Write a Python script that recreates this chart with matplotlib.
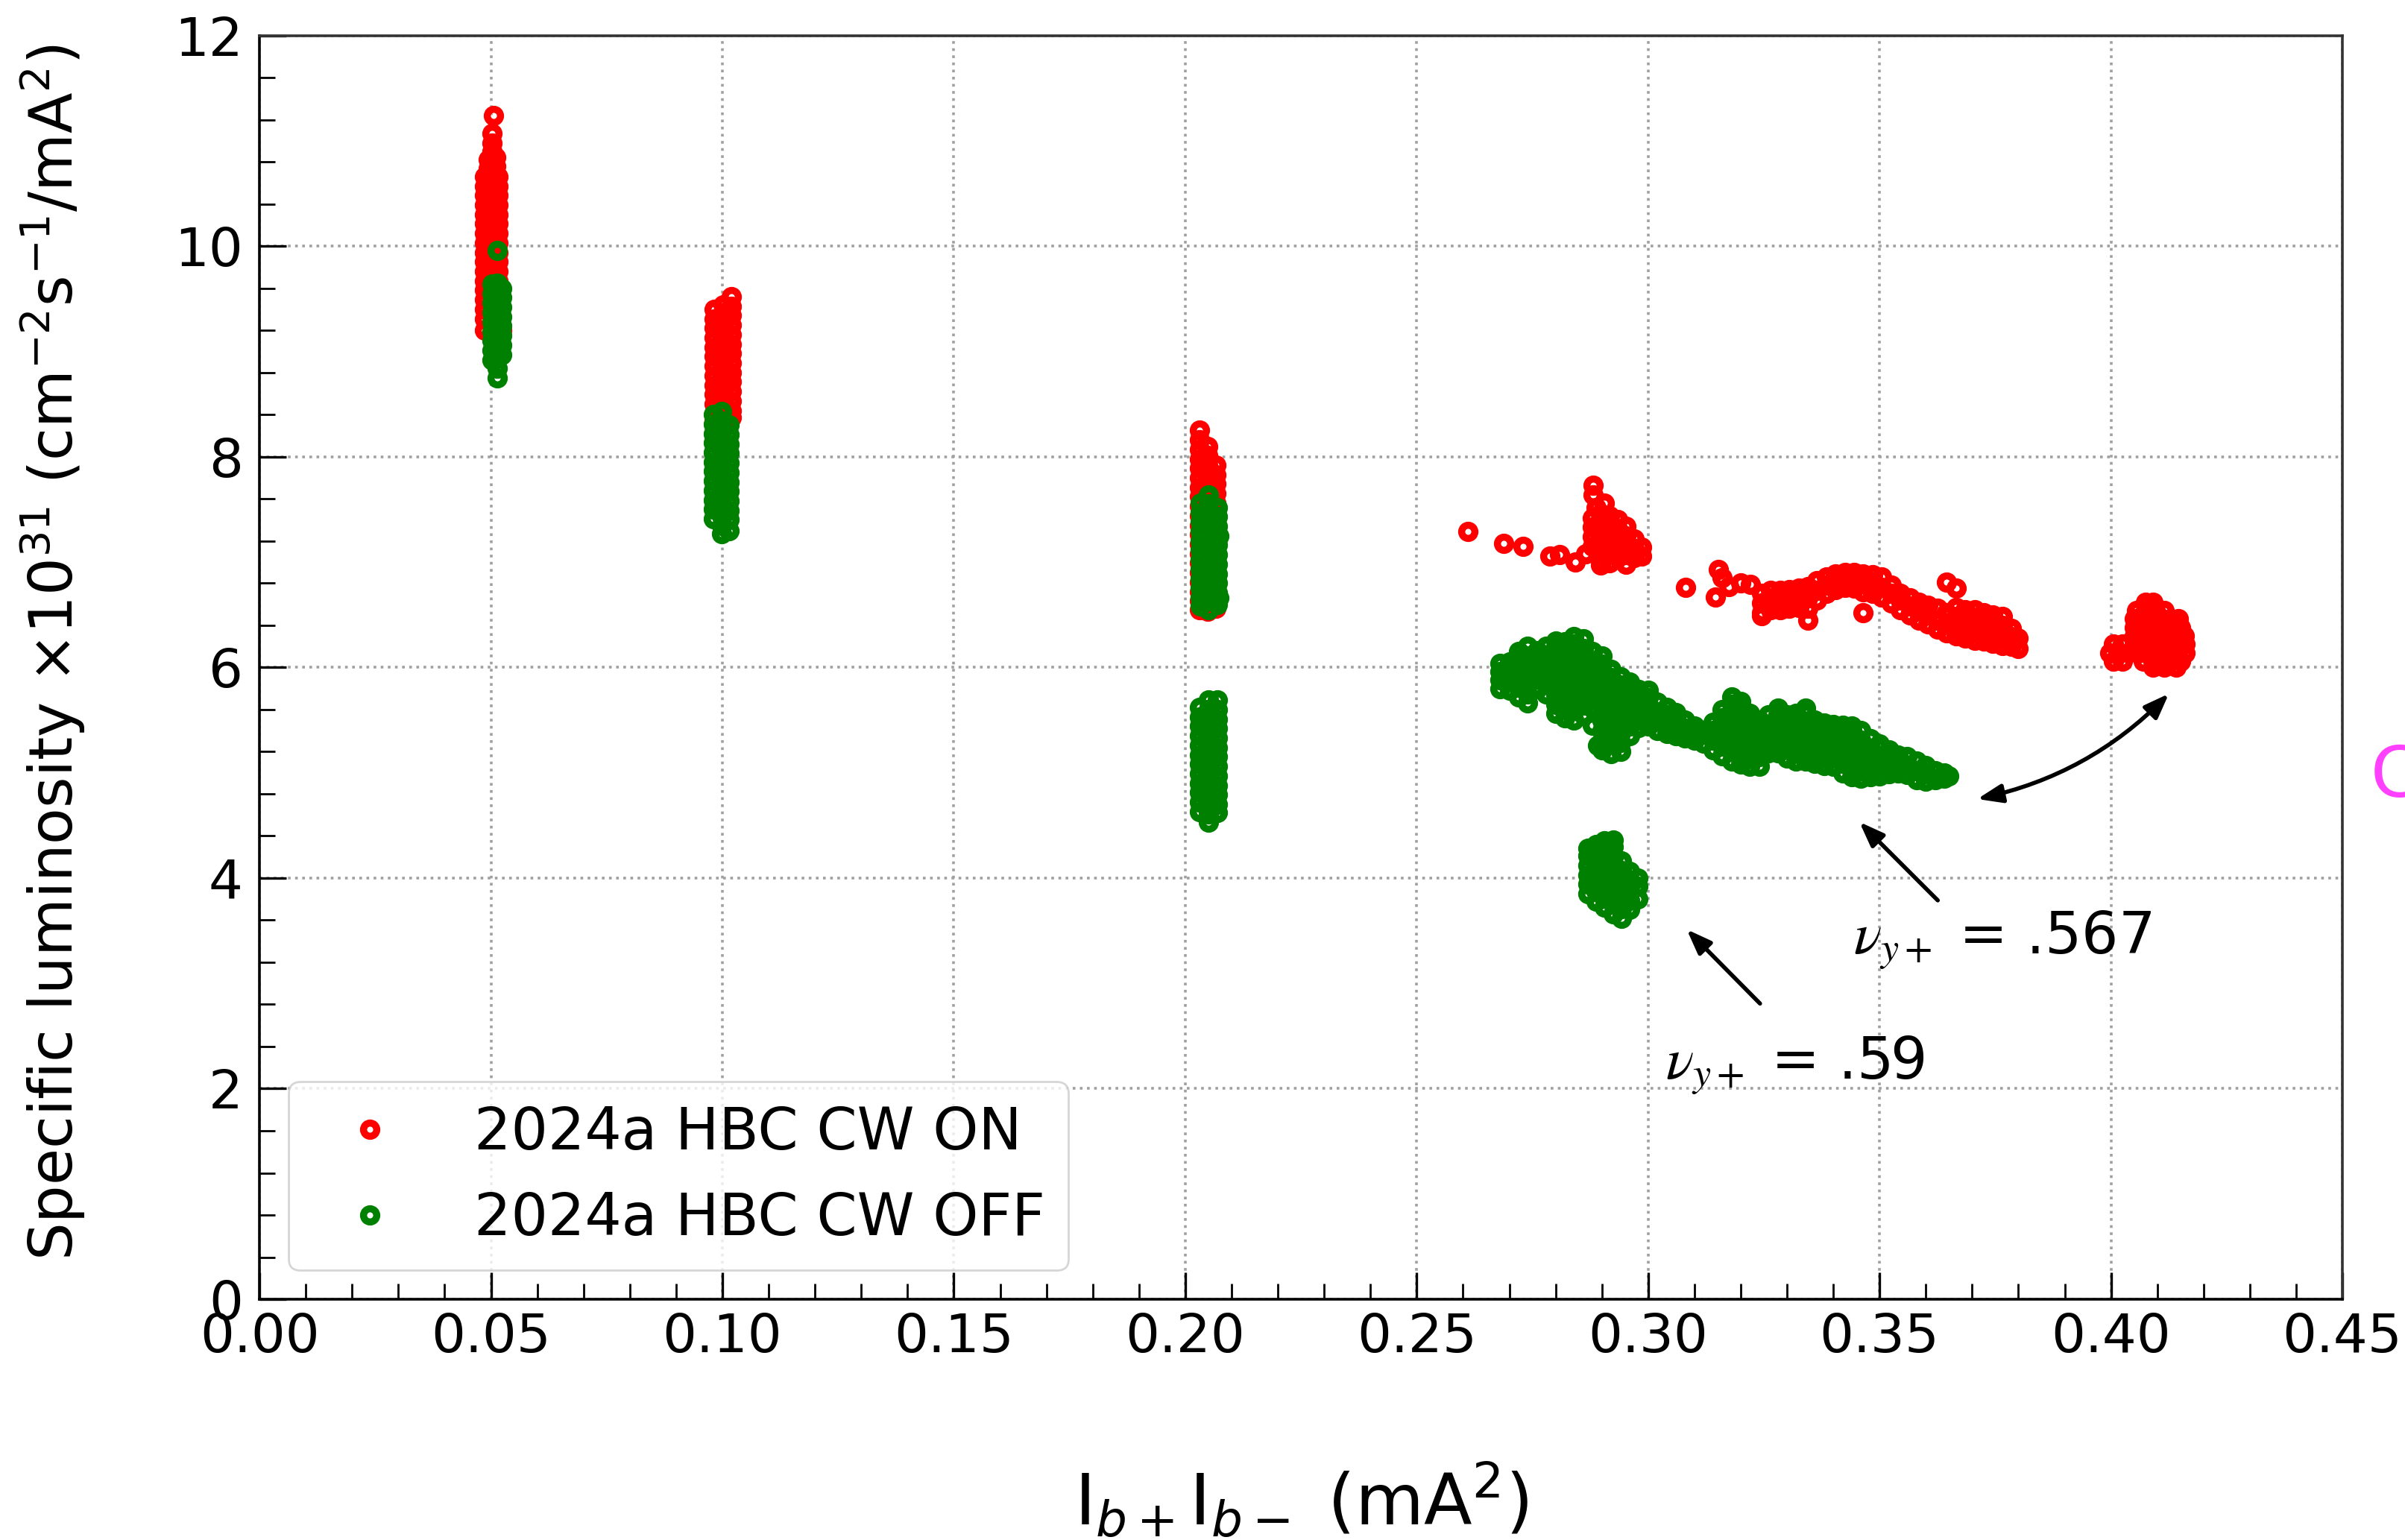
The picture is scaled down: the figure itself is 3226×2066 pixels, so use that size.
import matplotlib
matplotlib.use('Agg')
import matplotlib.pyplot as plt
from matplotlib.ticker import MultipleLocator, FormatStrFormatter

# columnas (x, [y, ...])
on_005 = [
    (0.0506, [11.24]),
    (0.0502, [11.07, 10.98, 10.90]),
    (0.0494, [10.82, 10.74]),
    (0.0510, [10.84, 10.76]),
    (0.0487, [10.66, 10.57, 10.48, 10.39, 10.30, 10.21, 10.12, 10.03, 9.94, 9.85, 9.76, 9.67, 9.58, 9.49, 9.40, 9.31, 9.20]),
    (0.0501, [10.68, 10.59, 10.50, 10.41, 10.32, 10.23, 10.14, 10.05, 9.96, 9.87, 9.78, 9.69]),
    (0.0515, [10.66, 10.57, 10.48, 10.39, 10.30, 10.21, 10.12, 10.03, 9.94, 9.85, 9.76, 9.67, 9.58, 9.49, 9.40, 9.31]),
    (0.0523, [9.20]),
]
on_010 = [
    (0.0983, [9.40, 9.31, 9.22, 9.13, 9.04, 8.95, 8.86, 8.77, 8.68, 8.59, 8.50, 8.41, 8.34]),
    (0.1001, [9.44, 9.35, 9.26, 9.17, 9.08, 8.99, 8.90, 8.81, 8.72, 8.63, 8.54, 8.45, 8.36]),
    (0.1019, [9.52, 9.43, 9.34, 9.25, 9.16, 9.07, 8.98, 8.89, 8.80, 8.71, 8.62, 8.53, 8.44, 8.37]),
]
on_020 = [
    (0.2031, [8.25, 8.16, 8.07, 7.98, 7.89, 7.80, 7.71, 7.62, 7.53, 7.44, 7.35, 7.26, 7.17, 7.08, 6.99, 6.90, 6.81, 6.72, 6.63, 6.55]),
    (0.2049, [8.10, 8.01, 7.92, 7.83, 7.74, 7.65, 7.56, 7.47, 7.38, 7.29, 7.20, 7.11, 7.02, 6.93, 6.84, 6.75, 6.66, 6.53]),
    (0.2066, [7.92, 7.83, 7.74, 7.65, 7.56, 7.47, 7.38, 7.29, 7.20, 7.11, 7.02, 6.93, 6.84, 6.75, 6.66, 6.56]),
]
on_029 = [
    (0.2611, [7.29]), (0.2688, [7.18]), (0.2730, [7.15]), (0.2788, [7.06]),
    (0.2809, [7.07]), (0.2842, [7.00]), (0.2865, [7.08]), (0.2897, [6.97]),
    (0.2881, [7.73, 7.64]), (0.2905, [7.56]), (0.2888, [7.52]),
    (0.2880, [7.42, 7.33, 7.24, 7.15]),
    (0.2898, [7.46, 7.37, 7.28, 7.19, 7.10, 7.02]),
    (0.2916, [7.44, 7.35, 7.26, 7.17, 7.08, 6.99]),
    (0.2934, [7.40, 7.31, 7.22, 7.13, 7.04]),
    (0.2952, [7.34, 7.25, 7.16, 7.07, 6.98]),
    (0.2970, [7.22, 7.13, 7.04]),
    (0.2986, [7.14, 7.06]),
]
on_035 = [
    (0.3081, [6.76]), (0.3145, [6.67]), (0.3151, [6.93]), (0.3174, [6.77]),
    (0.3160, [6.85]), (0.3200, [6.80]), (0.3221, [6.79]), (0.3245, [6.49]),
    (0.3245, [6.52, 6.61, 6.70]),
    (0.3265, [6.55, 6.64, 6.73]),
    (0.3285, [6.55, 6.64, 6.73]),
    (0.3305, [6.56, 6.65, 6.74]),
    (0.3325, [6.57, 6.66, 6.75]),
    (0.3345, [6.45, 6.56, 6.66, 6.77]),
    (0.3365, [6.64, 6.73, 6.82]),
    (0.3385, [6.70, 6.78, 6.86]),
    (0.3405, [6.74, 6.82, 6.89]),
    (0.3425, [6.76, 6.84, 6.90]),
    (0.3445, [6.75, 6.83, 6.90]),
    (0.3465, [6.52, 6.72, 6.81, 6.89]),
    (0.3485, [6.70, 6.79, 6.88]),
    (0.3505, [6.67, 6.76, 6.86]),
    (0.3525, [6.61, 6.70, 6.78]),
    (0.3545, [6.55, 6.64, 6.70]),
    (0.3565, [6.50, 6.58, 6.66]),
    (0.3585, [6.45, 6.54, 6.62]),
    (0.3605, [6.41, 6.50, 6.59]),
    (0.3625, [6.36, 6.45, 6.56]),
    (0.3645, [6.33, 6.42, 6.52, 6.81]),
    (0.3665, [6.30, 6.39, 6.48, 6.57, 6.75]),
    (0.3685, [6.28, 6.37, 6.46, 6.55]),
    (0.3705, [6.26, 6.35, 6.44, 6.55]),
    (0.3725, [6.25, 6.34, 6.43, 6.52]),
    (0.3745, [6.23, 6.32, 6.42, 6.50]),
    (0.3765, [6.21, 6.30, 6.40, 6.48]),
    (0.3785, [6.20, 6.29, 6.37]),
    (0.3800, [6.18, 6.28]),
]
on_041 = [
    (0.3998, [6.14]), (0.4005, [6.22, 6.06]), (0.4018, [6.14]), (0.4025, [6.22, 6.06]),
    (0.4038, [6.14]),
    (0.4050, [6.46, 6.38, 6.30, 6.22]), (0.4055, [6.54]), (0.4060, [6.14]),
    (0.4070, [6.46, 6.38, 6.30, 6.22, 6.06]), (0.4075, [6.62, 6.54]), (0.4080, [6.14]),
    (0.4090, [6.62, 6.46, 6.38, 6.30, 6.22, 6.06, 6.00]), (0.4095, [6.54]), (0.4100, [6.14]),
    (0.4110, [6.46, 6.38, 6.30, 6.22, 6.06]), (0.4115, [6.54, 6.00]), (0.4120, [6.14]),
    (0.4130, [6.46, 6.38, 6.30, 6.22, 6.06]), (0.4140, [6.14, 6.00]),
    (0.4145, [6.46]), (0.4150, [6.38, 6.30, 6.22, 6.06]),
    (0.4158, [6.30]), (0.4160, [6.22, 6.14]),
]

off_005 = [
    (0.0513, [9.96]),
    (0.0503, [9.64, 9.55, 9.46, 9.37, 9.28, 9.19, 9.10, 9.01, 8.92]),
    (0.0514, [9.65, 9.56, 9.47, 9.38, 9.29, 9.20, 9.11, 9.02, 8.93, 8.84, 8.75]),
    (0.0523, [9.60, 9.51, 9.42, 9.33, 9.24, 9.15, 9.06, 8.97]),
]
off_010 = [
    (0.0981, [8.40, 8.31, 8.22, 8.13, 8.04, 7.95, 7.86, 7.77, 7.68, 7.59, 7.50, 7.41]),
    (0.0998, [8.43, 8.34, 8.25, 8.16, 8.07, 7.98, 7.89, 7.80, 7.71, 7.62, 7.53, 7.44, 7.35, 7.27]),
    (0.1015, [8.30, 8.21, 8.12, 8.03, 7.94, 7.85, 7.76, 7.67, 7.58, 7.49, 7.40, 7.30]),
]
off_020 = [
    (0.2033, [7.56, 7.47, 7.38, 7.29, 7.20, 7.11, 7.02, 6.93, 6.84, 6.75, 6.66, 6.58]),
    (0.2050, [7.64, 7.55, 7.46, 7.37, 7.28, 7.19, 7.10, 7.01, 6.92, 6.83, 6.74, 6.65, 6.55]),
    (0.2069, [7.52, 7.43, 7.34, 7.25, 7.16, 7.07, 6.98, 6.89, 6.80, 6.71, 6.60]),
    (0.2072, [7.25, 6.66]),
    (0.2031, [5.62, 5.53, 5.44, 5.35, 5.26, 5.17, 5.08, 4.99, 4.90, 4.81, 4.72, 4.63]),
    (0.2050, [5.69, 5.60, 5.51, 5.42, 5.33, 5.24, 5.15, 5.06, 4.97, 4.88, 4.79, 4.70, 4.61, 4.53]),
    (0.2069, [5.69, 5.60, 5.51, 5.42, 5.33, 5.24, 5.15, 5.06, 4.97, 4.88, 4.79, 4.70, 4.62]),
]
off_032 = [
    (0.2680, [5.80, 5.88, 5.96, 6.04]),
    (0.2700, [5.78, 5.87, 5.96, 6.05]),
    (0.2720, [5.72, 5.81, 5.90, 5.99, 6.08, 6.15]),
    (0.2740, [5.66, 5.75, 5.84, 5.93, 6.02, 6.11, 6.20]),
    (0.2760, [5.80, 5.89, 5.98, 6.07, 6.16]),
    (0.2780, [5.75, 5.84, 5.93, 6.02, 6.11, 6.20]),
    (0.2800, [5.56, 5.65, 5.74, 5.83, 5.92, 6.01, 6.10, 6.19, 6.25]),
    (0.2820, [5.52, 5.61, 5.70, 5.79, 5.88, 5.97, 6.06, 6.15, 6.24]),
    (0.2840, [5.50, 5.59, 5.68, 5.77, 5.86, 5.95, 6.04, 6.13, 6.22, 6.29]),
    (0.2860, [5.55, 5.64, 5.73, 5.82, 5.91, 6.00, 6.09, 6.18, 6.27]),
    (0.2880, [5.45, 5.61, 5.70, 5.79, 5.88, 5.97, 6.06, 6.15]),
    (0.2891, [5.26]),
    (0.2900, [5.22, 5.31, 5.40, 5.49, 5.58, 5.67, 5.76, 5.85, 5.94, 6.03, 6.11]),
    (0.2920, [5.18, 5.27, 5.36, 5.45, 5.54, 5.63, 5.72, 5.81, 5.90, 5.98]),
    (0.2940, [5.20, 5.29, 5.38, 5.47, 5.56, 5.65, 5.74, 5.83, 5.91]),
    (0.2960, [5.35, 5.44, 5.53, 5.62, 5.71, 5.80, 5.86]),
    (0.2980, [5.43, 5.52, 5.61, 5.70, 5.79]),
    (0.3000, [5.44, 5.53, 5.62, 5.71, 5.78]),
    (0.3020, [5.40, 5.49, 5.58, 5.67]),
    (0.3040, [5.37, 5.46, 5.55, 5.62]),
    (0.3060, [5.35, 5.44, 5.53, 5.57]),
    (0.3080, [5.33, 5.42, 5.50]),
    (0.3100, [5.31, 5.40, 5.44]),
    (0.3120, [5.28, 5.37, 5.40]),
    (0.3140, [5.22, 5.31, 5.40, 5.48]),
    (0.3160, [5.16, 5.25, 5.34, 5.43, 5.52, 5.60]),
    (0.3180, [5.11, 5.20, 5.29, 5.38, 5.47, 5.56, 5.65, 5.72]),
    (0.3200, [5.08, 5.17, 5.26, 5.35, 5.44, 5.53, 5.62, 5.68]),
    (0.3220, [5.06, 5.15, 5.24, 5.33, 5.42, 5.51, 5.56]),
    (0.3240, [5.06, 5.15, 5.24, 5.33, 5.42, 5.50]),
    (0.3260, [5.19, 5.28, 5.37, 5.46, 5.55]),
    (0.3280, [5.19, 5.28, 5.37, 5.46, 5.55, 5.61]),
    (0.3300, [5.14, 5.23, 5.32, 5.41, 5.50, 5.55]),
    (0.3320, [5.11, 5.20, 5.29, 5.38, 5.47, 5.56]),
    (0.3340, [5.11, 5.20, 5.29, 5.38, 5.47, 5.56, 5.61]),
    (0.3360, [5.09, 5.18, 5.27, 5.36, 5.45, 5.50]),
    (0.3380, [5.07, 5.16, 5.25, 5.34, 5.43, 5.47]),
    (0.3400, [5.06, 5.15, 5.24, 5.33, 5.42, 5.46]),
    (0.3420, [5.00, 5.09, 5.18, 5.27, 5.36, 5.45]),
    (0.3440, [4.96, 5.05, 5.14, 5.23, 5.32, 5.41, 5.44]),
    (0.3460, [4.95, 5.04, 5.13, 5.22, 5.31, 5.40]),
    (0.3480, [4.96, 5.05, 5.14, 5.23, 5.32]),
    (0.3500, [4.97, 5.06, 5.15, 5.24, 5.27]),
    (0.3520, [4.99, 5.08, 5.17, 5.22]),
    (0.3540, [5.00, 5.09, 5.17]),
    (0.3560, [4.98, 5.07, 5.15]),
    (0.3580, [4.93, 5.02, 5.11]),
    (0.3600, [4.92, 5.00, 5.07]),
    (0.3620, [4.93, 5.02]),
    (0.3640, [4.95, 5.00]),
    (0.3650, [4.97]),
]
off_029b = [
    (0.2870, [3.85, 3.94, 4.03, 4.12, 4.21, 4.28]),
    (0.2888, [3.78, 3.87, 3.96, 4.05, 4.14, 4.23, 4.32]),
    (0.2906, [3.72, 3.81, 3.90, 3.99, 4.08, 4.17, 4.26, 4.35]),
    (0.2924, [3.66, 3.75, 3.84, 3.93, 4.02, 4.11, 4.20, 4.30, 4.36]),
    (0.2942, [3.62, 3.71, 3.80, 3.89, 3.98, 4.07, 4.16]),
    (0.2960, [3.70, 3.79, 3.88, 3.97, 4.06]),
    (0.2978, [3.80, 3.92, 4.00]),
]

x_ticks = [0.00, 0.05, 0.10, 0.15, 0.20, 0.25, 0.30, 0.35, 0.40, 0.45]
y_ticks = [0, 2, 4, 6, 8, 10, 12]


def expandir(grupos):
    xs, ys = [], []
    for columnas in grupos:
        for x, yy in columnas:
            xs += [x] * len(yy)
            ys += yy
    return xs, ys


x_on, y_on = expandir([on_005, on_010, on_020, on_029, on_035, on_041])
x_off, y_off = expandir([off_005, off_010, off_020, off_032, off_029b])

fig = plt.figure(figsize=(16.13, 10.33), dpi=200)
ax = fig.add_axes([0.1079, 0.1563, 0.8661, 0.8207])
ax.set_axisbelow(True)

estilo = dict(ls='none', marker='o', mfc='none', ms=6.4, mew=3.4)
ax.plot(x_on, y_on, mec='red', label='2024a HBC CW ON', **estilo)
ax.plot(x_off, y_off, mec='green', label='2024a HBC CW OFF', **estilo)

ax.set_xlim(0, 0.45)
ax.set_ylim(0, 12)
ax.set_xticks(x_ticks)
ax.set_yticks(y_ticks)
ax.xaxis.set_major_formatter(FormatStrFormatter('%.2f'))
ax.xaxis.set_minor_locator(MultipleLocator(0.01))
ax.yaxis.set_minor_locator(MultipleLocator(0.4))
ax.tick_params(which='major', direction='in', length=13, width=1.2, labelsize=26)
ax.tick_params(which='minor', direction='in', length=7.5, width=1.0)
ax.tick_params(axis='x', which='major', pad=6)
ax.tick_params(axis='y', which='major', pad=8)
for lado in ['left', 'bottom']:
    ax.spines[lado].set_linewidth(1.3)
for lado in ['top', 'right']:
    ax.spines[lado].set_linewidth(1.3)
    ax.spines[lado].set_color('#333333')

ax.grid(True, which='major', ls=':', color='#a0a0a0', lw=1.3)

ax.set_xlabel(r'I$_{b+}$I$_{b-}$ (mA$^2$)', fontsize=34, labelpad=47)
ax.set_ylabel(r'Specific luminosity $\times10^{31}$ (cm$^{-2}$s$^{-1}$/mA$^2$)', fontsize=28.7)
ax.yaxis.set_label_coords(-0.0827, 0.512)

ax.legend(loc='lower left', fontsize=28, handletextpad=0.8, borderaxespad=0.5,
          framealpha=0.8, edgecolor='0.8')

flecha = dict(arrowstyle='-|>,head_length=0.4,head_width=0.15', color='black', lw=2, mutation_scale=25)
ax.annotate('', xy=(0.3450, 4.56), xytext=(0.3632, 3.76), arrowprops=flecha)
ax.annotate('', xy=(0.3077, 3.54), xytext=(0.3248, 2.78), arrowprops=flecha)
ax.annotate('', xy=(0.4125, 5.75), xytext=(0.3711, 4.75),
            arrowprops=dict(arrowstyle='<|-|>,head_length=0.4,head_width=0.15', color='black',
                            lw=2, mutation_scale=25, connectionstyle='arc3,rad=0.15',
                            shrinkA=0, shrinkB=0))
ax.text(0.3443, 3.28, r'$\nu_{y+}$ = .567', fontsize=28, math_fontfamily='stix')
ax.text(0.3037, 2.09, r'$\nu_{y+}$ = .59', fontsize=28, math_fontfamily='stix')

fig.text(0.9857, 0.495, 'C', color='#ff40ff', fontsize=34, va='center', ha='left')

fig.savefig('out.png', dpi=200)
